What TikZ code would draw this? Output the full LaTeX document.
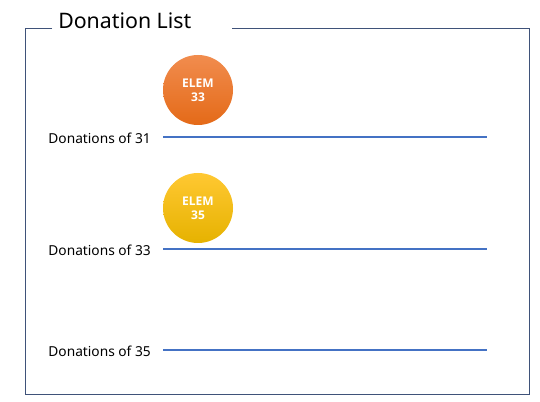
\documentclass[tikz,border=0pt]{standalone}
\usepackage{fontspec}
\setmainfont{Noto Sans}
\newfontfamily\elemfont{Open Sans}
\begin{document}
\begin{tikzpicture}[x=0.75pt,y=-0.75pt,
  frame/.style={draw=frameblue,line width=0.75pt},
  track/.style={draw=lineblue,line width=1.5pt},
  lbl/.style={anchor=east,font=\fontsize{10.3}{12}\selectfont,inner sep=0pt},
  elem/.style={circle,minimum size=52.5pt,inner sep=0pt,shading=axis,draw=none,
     text=white,font=\elemfont\bfseries\fontsize{9}{10.8}\selectfont,align=center}]
\definecolor{frameblue}{HTML}{3F5279}
\definecolor{lineblue}{HTML}{4472C4}
\useasboundingbox[fill=white] (0,0) rectangle (540,402);
\coordinate (tl) at (25,29);
\coordinate (br) at (529,395);
\coordinate (gl) at (52,29);
\coordinate (gr) at (232,29);
\draw[frame] (gl) -- (tl) |- (br) |- (gr);
\node[anchor=west,font=\fontsize{16}{19}\selectfont,inner sep=0pt] (title) at (58,21) {Donation List};
% tracks
\coordinate (a1) at (163,137); \coordinate (b1) at (487,137);
\coordinate (a2) at (163,249); \coordinate (b2) at (487,249);
\coordinate (a3) at (163,350); \coordinate (b3) at (487,350);
\draw[track] (a1) -- (b1);
\draw[track] (a2) -- (b2);
\draw[track] (a3) -- (b3);
\node[lbl] (l1) at (151,138) {Donations of 31};
\node[lbl] (l2) at (151,250) {Donations of 33};
\node[lbl] (l3) at (151,351) {Donations of 35};
\node[elem,top color={rgb,255:red,241;green,140;blue,78},bottom color={rgb,255:red,228;green,106;blue,24}] (e33) at (198,90) {ELEM\\33};
\node[elem,top color={rgb,255:red,255;green,200;blue,50},bottom color={rgb,255:red,230;green,178;blue,0}] (e35) at (198,208) {ELEM\\35};
\end{tikzpicture}
\end{document}
